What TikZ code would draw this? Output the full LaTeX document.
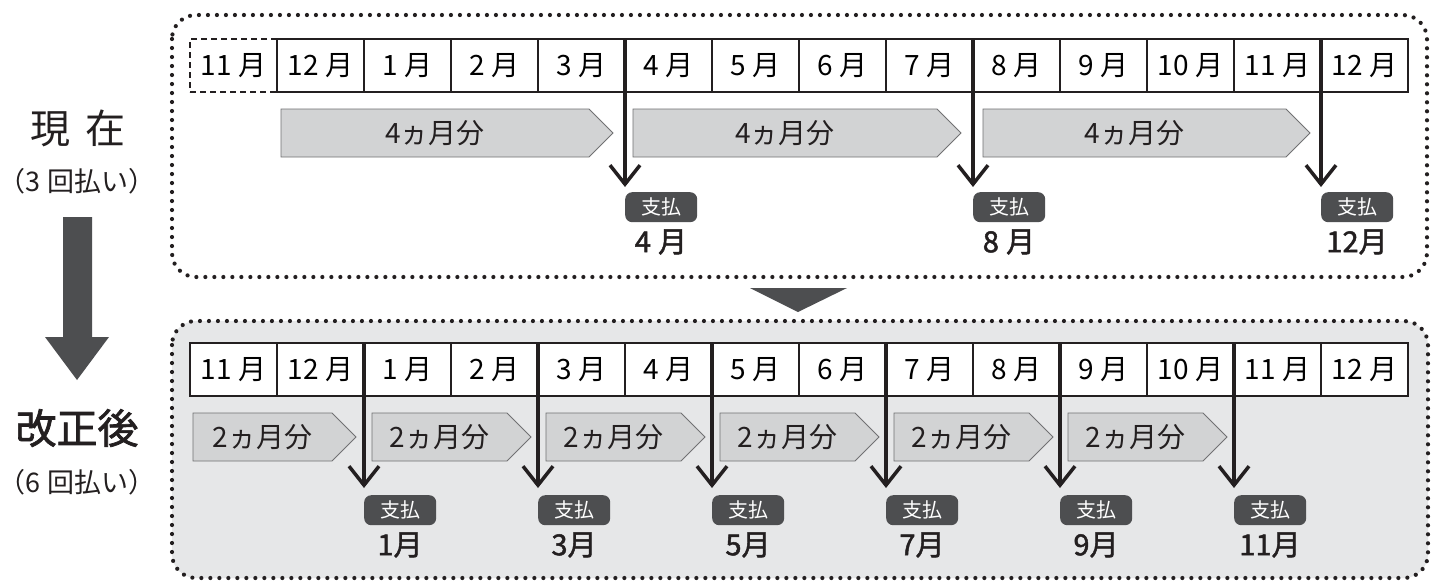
\documentclass[tikz,border=0pt]{standalone}
\usepackage{fontspec}
\setmainfont{Noto Sans CJK JP}
\newfontfamily\medfont{Noto Sans CJK JP}[FakeBold=1.6]
\usetikzlibrary{arrows.meta}
\definecolor{dk}{HTML}{4D4E50}
\definecolor{pg}{HTML}{D2D3D4}
\definecolor{bgc}{HTML}{E6E7E8}
\definecolor{ln}{HTML}{231F20}
\newcommand\mypent[5]{% name, start x, tip x, mid y, text
  \draw[pentstyle] (#2,#4-24) -- (#3-24,#4-24) -- (#3,#4) -- (#3-24,#4+24) -- (#2,#4+24) -- cycle;
  \node[penttext] (#1) at ({(#2+#3-24)/2},#4) {#5};
}
\begin{document}
\begin{tikzpicture}[x=1pt,y=-1pt,
  cell/.style={draw=ln, line width=1.3pt, fill=white, minimum width=87pt, minimum height=53pt,
    inner sep=0pt, outer sep=0pt, anchor=north west, font=\fontsize{28}{28}\selectfont},
  dotborder/.style={draw=ln, line width=4.2pt, line cap=round, dash pattern=on 0pt off 9pt, rounded corners=24pt},
  pentstyle/.style={fill=pg, draw=dk!80, line width=0.8pt},
  penttext/.style={inner sep=0pt, text=ln, font=\fontsize{28}{28}\selectfont},
  badge/.style={fill=dk, rounded corners=7pt, minimum width=72pt, minimum height=30pt, inner sep=0pt,
    text=white, anchor=north west, font=\fontsize{20}{20}\selectfont},
  lab/.style={inner sep=0pt, text=ln, font=\fontsize{29}{29}\medfont},
  pay/.style={draw=ln, line width=3.5pt, -{Straight Barb[length=19pt,width=30pt]}},
  title/.style={inner sep=0pt, text=ln},
]
\useasboundingbox (0,0) rectangle (1438,582);
\fill[white] (0,0) rectangle (1438,582);

% panels
\draw[dotborder] (172,15) rectangle (1427,277);
\draw[dotborder, fill=bgc] (172,321) rectangle (1428,578);

% connecting triangle and big arrow
\fill[dk] (750,288) -- (847,288) -- (798,312) -- cycle;
\fill[dk] (63,217) -- (92,217) -- (92,337) -- (109,337) -- (77,380) -- (45,337) -- (63,337) -- cycle;

% left titles
\node[title, font=\fontsize{40}{40}\selectfont] (gen) at (78,128) {現\hspace{0.4em}在};
\node[title, font=\fontsize{27}{27}\selectfont] (gen2) at (77,181) {（3 回払い）};
\node[title, font=\fontsize{41}{41}\medfont] (kai) at (77,428) {改正後};
\node[title, font=\fontsize{27}{27}\selectfont] (kai2) at (77,482) {（6 回払い）};

% month rows
\foreach \m [count=\i from 0] in {11,12,1,2,3,4,5,6,7,8,9,10,11,12} {
  \ifnum\i=0
    \node[cell, line width=1.4pt, dash pattern=on 6pt off 4pt, draw=ln] (t\i) at ({190+87*\i},39) {\m{} 月};
  \else
    \node[cell] (t\i) at ({190+87*\i},39) {\m{} 月};
  \fi
  \node[cell] (u\i) at ({190+87*\i},343) {\m{} 月};
}

% top pentagons
\mypent{pa1}{281}{613}{133}{4ヵ月分}
\mypent{pa2}{633}{961}{133}{4ヵ月分}
\mypent{pa3}{983}{1310}{133}{4ヵ月分}

% bottom pentagons
\mypent{pb1}{193}{356}{437}{2ヵ月分}
\mypent{pb2}{372}{531}{437}{2ヵ月分}
\mypent{pb3}{546}{705}{437}{2ヵ月分}
\mypent{pb4}{720}{879}{437}{2ヵ月分}
\mypent{pb5}{894}{1053}{437}{2ヵ月分}
\mypent{pb6}{1068}{1227}{437}{2ヵ月分}

% top payments
\foreach \c/\k/\t in {5/1/4\hspace{0.25em}月, 9/2/8\hspace{0.25em}月, 13/3/12月} {
  \node[badge] (bt\k) at ({190+87*\c},192) {支払};
  \node[lab] (lt\k) at ({190+87*\c+36},242) {\t};
  \draw[pay] (t\c.north west) -- ([yshift=5pt]bt\k.north west);
}

% bottom payments
\foreach \c/\k/\t in {2/1/1月, 4/2/3月, 6/3/5月, 8/4/7月, 10/5/9月, 12/6/11月} {
  \node[badge] (bb\k) at ({190+87*\c},495) {支払};
  \node[lab] (lb\k) at ({190+87*\c+36},545) {\t};
  \draw[pay] (u\c.north west) -- ([yshift=7pt]bb\k.north west);
}
\end{tikzpicture}
\end{document}
